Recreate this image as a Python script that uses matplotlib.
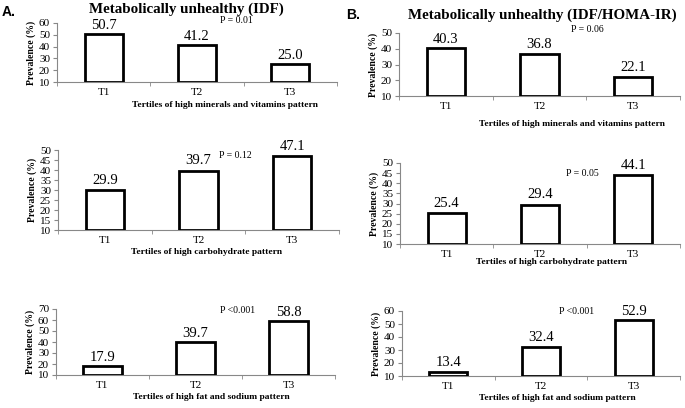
import matplotlib
matplotlib.use("Agg")
import matplotlib.pyplot as plt

plt.rcParams["font.family"] = ["Liberation Serif", "DejaVu Serif"]

cats = ["T1", "T2", "T3"]

# panel A (IDF)
a_minerals = [50.7, 41.2, 25.0]
a_carb = [29.9, 39.7, 47.1]
a_fat = [17.9, 39.7, 58.8]
# panel B (IDF/HOMA-IR)
b_minerals = [40.3, 36.8, 22.1]
b_carb = [25.4, 29.4, 44.1]
b_fat = [13.4, 32.4, 52.9]

xlabels = ["Tertiles of high minerals and vitamins pattern",
           "Tertiles of high carbohydrate pattern",
           "Tertiles of high fat and sodium pattern"]
a_pvals = ["P = 0.01", "P = 0.12", "P <0.001"]
b_pvals = ["P = 0.06", "P = 0.05", "P <0.001"]

W, H = 685, 408
fig = plt.figure(figsize=(W / 100, H / 100), dpi=100)


def px_axes(x0, x1, y0, y1):
    return fig.add_axes([x0 / W, 1 - y1 / H, (x1 - x0) / W, (y1 - y0) / H])


def panel(box, vals, ymax, step, xlabel, xlab_px, pval, p_xy):
    ax = px_axes(*box)
    xs = range(len(cats))
    ax.bar(xs, [v - 10 for v in vals], bottom=10, width=0.41, color="white",
           edgecolor="black", linewidth=2, zorder=3)
    for x, v in zip(xs, vals):
        ax.text(x, v + (ymax - 10) * 0.04, f"{v:.1f}", ha="center", va="bottom",
                fontsize=10.5, clip_on=False)
    ax.set_xlim(-0.5, 2.5)
    ax.set_ylim(10, ymax)
    ax.set_yticks(range(10, ymax + 1, step))
    ax.set_xticks(list(xs))
    ax.set_xticklabels(cats)
    ax.set_xticks([-0.5, 0.5, 1.5, 2.5], minor=True)
    ax.tick_params(axis="x", which="major", length=0, labelsize=8, pad=4)
    ax.tick_params(axis="x", which="minor", length=3, color="#888888")
    ax.tick_params(axis="y", length=3, color="#888888", labelsize=8, pad=2)
    for s in ["top", "right"]:
        ax.spines[s].set_visible(False)
    for s in ["left", "bottom"]:
        ax.spines[s].set_color("#888888")
        ax.spines[s].set_linewidth(0.8)
    ax.set_ylabel("Prevalence (%)", fontsize=7, fontweight="bold", labelpad=2)
    fig.text(xlab_px[0] / W, 1 - xlab_px[1] / H, xlabel, ha="center", va="center",
             fontsize=6.8, fontweight="bold")
    ax.text(p_xy[0], p_xy[1], pval, ha="center", va="center", fontsize=7,
            clip_on=False)
    return ax


panel((57, 337, 23, 82), a_minerals, 60, 10, xlabels[0], (225, 105), a_pvals[0], (1.42, 62.5))
panel((58, 339, 150, 230), a_carb, 50, 5, xlabels[1], (207, 252), a_pvals[1], (1.39, 47))
panel((56, 335, 309, 375), a_fat, 70, 10, xlabels[2], (211, 397), a_pvals[2], (1.45, 69))

panel((399, 680, 33, 96), b_minerals, 50, 10, xlabels[0], (572, 124), b_pvals[0], (1.51, 52))
panel((400, 680, 163, 244), b_carb, 50, 5, xlabels[1], (552, 262), b_pvals[1], (1.45, 45))
panel((402, 680, 311, 376), b_fat, 60, 10, xlabels[2], (557, 398), b_pvals[2], (1.38, 60))

fig.text(186 / W, 1 - 9 / H, "Metabolically unhealthy (IDF)", ha="center", va="center",
         fontsize=10.8, fontweight="bold")
fig.text(542 / W, 1 - 15 / H, "Metabolically unhealthy (IDF/HOMA-IR)", ha="center",
         va="center", fontsize=10.8, fontweight="bold")
fig.text(2 / W, 1 - 12 / H, "A.", ha="left", va="center", fontsize=10,
         fontweight="bold", family="Liberation Sans")
fig.text(346 / W, 1 - 15 / H, "B.", ha="left", va="center", fontsize=10,
         fontweight="bold", family="Liberation Sans")

fig.savefig("out.png", dpi=100)
